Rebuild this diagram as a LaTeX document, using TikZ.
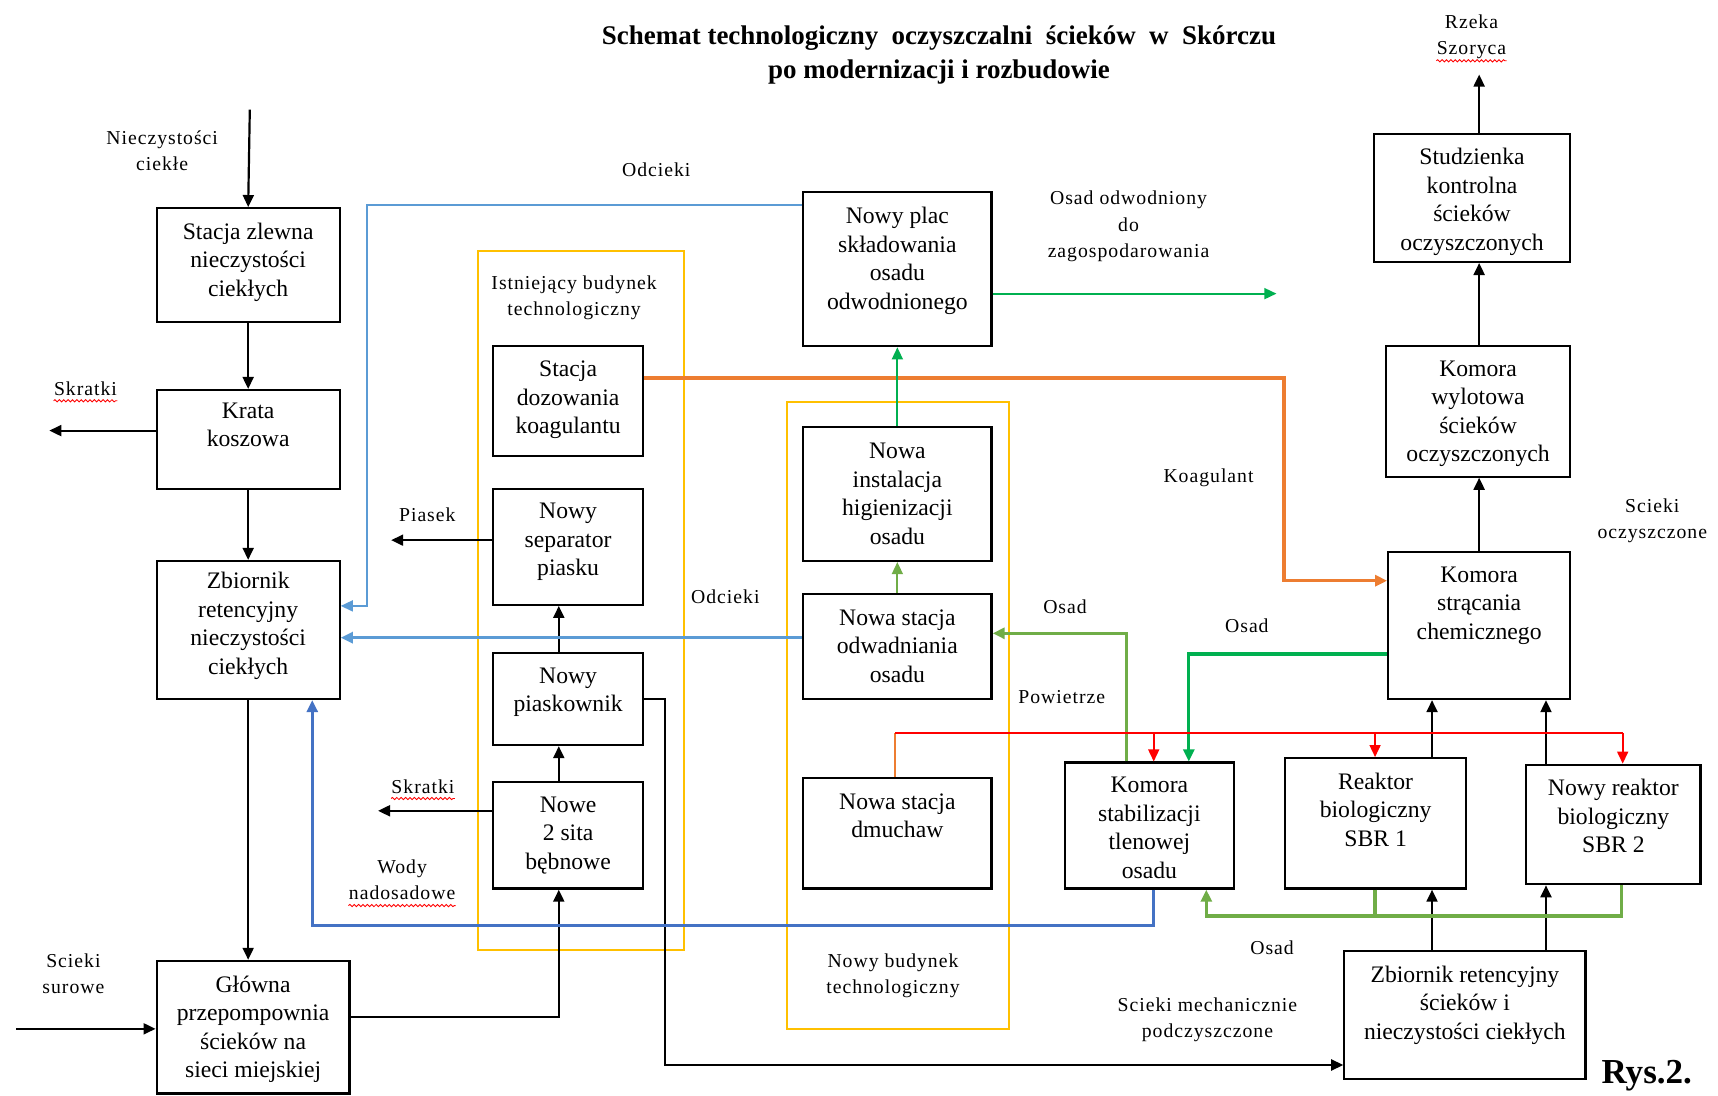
\documentclass[tikz,border=0pt]{standalone}
\usepackage{fontspec}
\setmainfont{Liberation Serif}
\newfontfamily\lblfont[LetterSpace=5]{Liberation Serif}
\usetikzlibrary{arrows.meta,fit,decorations.pathmorphing}
\definecolor{blueL}{HTML}{5B9BD5}
\definecolor{blueD}{HTML}{4472C4}
\definecolor{orng}{HTML}{ED7D31}
\definecolor{greenD}{HTML}{00B050}
\definecolor{greenL}{HTML}{70AD47}
\definecolor{yel}{HTML}{FFC000}
\tikzset{
  box/.style={draw, line width=1pt, inner sep=0pt},
  btxt/.style={anchor=north, inner sep=0pt, align=center, font=\fontsize{10.8}{13}\selectfont, execute at begin node=\strut},
  lbl/.style={anchor=north, inner sep=0pt, align=center, font=\lblfont\fontsize{9}{12}\selectfont, execute at begin node=\strut},
  yframe/.style={draw=yel, line width=0.8pt, inner sep=0pt},
  tip/.style={-{Triangle[length=5.5pt,width=5pt]}},
  blk/.style={line width=1pt, tip},
  thinc/.style={line width=0.8pt},
  thickc/.style={line width=1.5pt},
  wavy/.style={red, line width=0.4pt, decorate, decoration={snake, amplitude=0.5pt, segment length=2pt}},
}
\newcommand\bx[7]{%
  \node[box, fit={(#2,#3) (#4,#5)}] (#1) {};
  \node[btxt] (#1-t) at ({(#2+#4)/2},{#6-8}) {#7};
}
\newcommand\lb[4]{\node[lbl] (#1) at (#2,{#3-7}) {#4};}
\begin{document}
\begin{tikzpicture}[x=0.5pt,y=-0.5pt]
\fill[white] (0,0) rectangle (1568,1000);
\useasboundingbox (0,0) rectangle (1568,1000);

% title
\node[align=center, inner sep=0pt, font=\bfseries\fontsize{12.3}{15.5}\selectfont] (title) at (857,50)
  {Schemat technologiczny \ oczyszczalni \ ścieków \ w \ Skórczu\\po modernizacji i rozbudowie};
\node[inner sep=0pt, font=\bfseries\fontsize{16}{18}\selectfont] (rys) at (1503,982) {Rys.2.};

% building frames
\node[yframe, fit={(436,229) (624,867)}] (bud1) {};
\node[yframe, fit={(718,367) (921,939)}] (bud2) {};

% boxes
\bx{zlew}{143}{190}{310}{294}{211}{Stacja zlewna\\nieczystości\\ciekłych}
\bx{krata}{143}{356}{310}{446}{375}{Krata\\koszowa}
\bx{zb1}{143}{512}{310}{638}{530}{Zbiornik\\retencyjny\\nieczystości\\ciekłych}
\bx{glow}{143}{877}{319}{998}{898}{Główna\\przepompownia\\ścieków na\\sieci miejskiej}
\bx{doz}{450}{316}{587}{416}{337}{Stacja\\dozowania\\koagulantu}
\bx{sep}{450}{446}{587}{552}{467}{Nowy\\separator\\piasku}
\bx{piask}{450}{596}{587}{680}{617}{Nowy\\piaskownik}
\bx{sita}{450}{714}{587}{811}{735}{Nowe\\2 sita\\bębnowe}
\bx{plac}{733}{175}{905}{316}{197}{Nowy plac\\składowania\\osadu\\odwodnionego}
\bx{hig}{733}{390}{905}{512}{412}{Nowa\\instalacja\\higienizacji\\osadu}
\bx{odw}{733}{542}{905}{638}{564}{Nowa stacja\\odwadniania\\osadu}
\bx{dmu}{733}{710}{905}{811}{732}{Nowa stacja\\dmuchaw}
\bx{stab}{972}{696}{1126}{811}{717}{Komora\\stabilizacji\\tlenowej\\osadu}
\bx{sbr1}{1173}{692}{1338}{811}{713}{Reaktor\\biologiczny\\SBR 1}
\bx{sbr2}{1393}{698}{1552}{807}{719}{Nowy reaktor\\biologiczny\\SBR 2}
\bx{chem}{1267}{504}{1433}{638}{525}{Komora\\strącania\\chemicznego}
\bx{wyl}{1265}{316}{1433}{435}{337}{Komora\\wylotowa\\ścieków\\oczyszczonych}
\bx{stud}{1254}{122}{1433}{239}{143}{Studzienka\\kontrolna\\ścieków\\oczyszczonych}
\bx{zb2}{1227}{868}{1447}{985}{889}{Zbiornik retencyjny\\ścieków i\\nieczystości ciekłych}

% labels
\lb{lnc}{148}{126}{Nieczystości\\ciekłe}
\lb{lodc1}{599}{151}{Odcieki}
\lb{lodw}{1030}{181}{Osad odwodniony\\do\\zagospodarowania}
\lb{lrz}{1343}{20}{Rzeka\\Szoryca}
\lb{lsk1}{78}{351}{Skratki}
\lb{lpias}{390}{466}{Piasek}
\lb{lkoag}{1103}{430}{Koagulant}
\lb{lsco}{1508}{462}{Scieki\\oczyszczone}
\lb{lodc2}{662}{541}{Odcieki}
\lb{losad1}{972}{550}{Osad}
\lb{losad2}{1138}{567}{Osad}
\lb{lpow}{969}{632}{Powietrze}
\lb{lsk2}{386}{714}{Skratki}
\lb{lwody}{367}{791}{Wody\\nadosadowe}
\lb{lssur}{67}{877}{Scieki\\surowe}
\lb{losad3}{1161}{861}{Osad}
\lb{lsmech}{1102}{917}{Scieki mechanicznie\\podczyszczone}
\lb{lbud1}{524}{258}{Istniejący budynek\\technologiczny}
\lb{lbud2}{815}{877}{Nowy budynek\\technologiczny}

% spell-check underlines
\draw[wavy] ([yshift=1.5pt]lsk1.south west) -- ([yshift=1.5pt]lsk1.south east);
\draw[wavy] ([yshift=1.5pt]lsk2.south west) -- ([yshift=1.5pt]lsk2.south east);
\draw[wavy] ([yshift=1pt]lrz.south west) -- ([yshift=1pt]lrz.south east);
\draw[wavy] ([yshift=1pt]lwody.south west) -- ([yshift=1pt]lwody.south east);

% free ends
\coordinate (inNc) at (228,100);
\coordinate (outSk1) at (45,393);
\coordinate (inSs) at (15,939);
\coordinate (outSk2) at (345,740);
\coordinate (outPias) at (357,493);
\coordinate (outRz) at (1350,68);
\coordinate (outOsad) at (1165,268);

% black flow
\draw[blk] (inNc) -- (zlew.north);
\draw[blk] (zlew.south) -- (krata.north);
\draw[blk] (krata.west |- outSk1) -- (outSk1);
\draw[blk] (krata.south) -- (zb1.north);
\draw[blk] (zb1.south) -- (zb1.south |- glow.north);
\draw[blk] (inSs) -- (glow.west |- inSs);
\draw[blk] (glow.east |- 0,928) -| (sita.south -| 510,0);
\draw[blk] (sita.north -| 510,0) -- (piask.south -| 510,0);
\draw[blk] (sita.west |- outSk2) -- (outSk2);
\draw[blk] (piask.north -| 510,0) -- (sep.south -| 510,0);
\draw[blk] (sep.west |- outPias) -- (outPias);
\draw[blk] (piask.east |- 0,638) -- (607,638) |- (zb2.west |- 0,972);
\draw[blk] (zb2.north -| 1307,0) -- (sbr1.south -| 1307,0);
\draw[blk] (zb2.north -| 1411,0) -- (sbr2.south -| 1411,0);
\draw[blk] (sbr1.north -| 1307,0) -- (chem.south -| 1307,0);
\draw[blk] (sbr2.north -| 1411,0) -- (chem.south -| 1411,0);
\draw[blk] (chem.north -| 1350,0) -- (wyl.south -| 1350,0);
\draw[blk] (wyl.north -| 1350,0) -- (stud.south -| 1350,0);
\draw[blk] (stud.north -| 1350,0) -- (outRz);

% coloured flows
\draw[thinc, blueL, tip] (plac.west |- 0,187) -| (335,553) -- (zb1.east |- 0,553);
\draw[thickc, blueL, tip] (odw.west |- 0,582) -- (zb1.east |- 0,582);
\draw[thickc, blueD, tip] (stab.south -| 1053,0) |- (285,845) -- (zb1.south -| 285,0);
\draw[thickc, orng, tip] (doz.east |- 0,345) -| (1172,530) -- (chem.west |- 0,530);
\draw[thinc, greenD, tip] (plac.east |- outOsad) -- (outOsad);
\draw[thinc, greenD, tip] (hig.north) -- (plac.south);
\draw[thinc, greenL, tip] (odw.north) -- (hig.south);
\draw[thickc, greenL, tip] (stab.north -| 1028,0) |- (odw.east |- 0,578);
\draw[thickc, greenD, tip] (chem.west |- 0,597) -| (stab.north -| 1085,0);
\draw[thickc, greenL] (sbr1.south -| 1255,0) -- (1255,836);
\draw[thickc, greenL, tip] (sbr2.south -| 1480,0) |- (1101,836) -- (stab.south -| 1101,0);

% air
\draw[thinc, orng] (dmu.north -| 817,0) -- (817,669);
\draw[thinc, red] (817,669) -- (1481,669);
\draw[thinc, red, tip] (1053,669) -- (stab.north -| 1053,0);
\draw[thinc, red, tip] (1255,669) -- (sbr1.north -| 1255,0);
\draw[thinc, red, tip] (1481,669) -- (sbr2.north -| 1481,0);
\end{tikzpicture}
\end{document}
